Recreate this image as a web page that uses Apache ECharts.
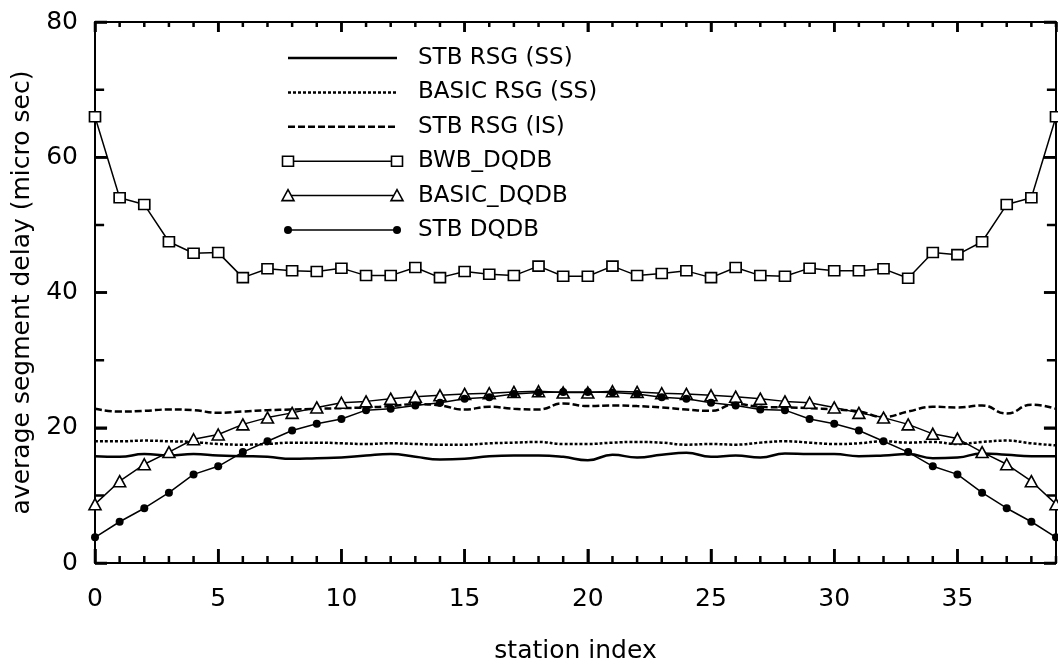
<!DOCTYPE html>
<html>
<head>
<meta charset="utf-8">
<script src="https://cdn.jsdelivr.net/npm/echarts@6/dist/echarts.min.js"></script>
<style>html,body{margin:0;padding:0;background:#fff}#c{width:1058px;height:669px}</style>
</head>
<body>
<div id="c"></div>
<script>
const stationIndex = [0,1,2,3,4,5,6,7,8,9,10,11,12,13,14,15,16,17,18,19,20,21,22,23,24,25,26,27,28,29,30,31,32,33,34,35,36,37,38,39];
const xTicks = [0,5,10,15,20,25,30,35];
const yTicks = [0,20,40,60,80];
const yMinorTicks = [0,10,20,30,40,50,60,70,80];

const stbRsgSS = [15.8,15.7,16.1,15.9,16.1,15.9,15.8,15.7,15.4,15.5,15.6,15.9,16.1,15.7,15.3,15.4,15.8,15.9,15.9,15.7,15.2,16.0,15.6,16.0,16.3,15.7,15.9,15.6,16.2,16.1,16.1,15.8,15.9,16.1,15.5,15.6,16.2,16.0,15.8,15.8];
const basicRsgSS = [18.0,18.0,18.1,18.0,17.9,17.6,17.5,17.6,17.8,17.8,17.7,17.6,17.7,17.6,17.5,17.5,17.7,17.8,17.9,17.6,17.6,17.8,17.9,17.8,17.5,17.6,17.5,17.8,18.0,17.8,17.6,17.7,18.0,17.8,17.9,17.6,17.9,18.1,17.7,17.4];
const stbRsgIS = [22.8,22.4,22.5,22.7,22.6,22.2,22.4,22.6,22.7,22.8,22.9,23.0,23.2,23.5,23.3,22.7,23.1,22.8,22.7,23.6,23.2,23.3,23.2,23.0,22.7,22.5,23.5,23.1,23.0,22.9,22.7,22.4,21.6,22.4,23.1,23.0,23.3,22.1,23.4,22.8];
const bwbDqdb = [66,54,53,47.5,45.8,45.9,42.2,43.5,43.2,43.1,43.6,42.5,42.5,43.7,42.2,43.1,42.7,42.5,43.9,42.4,42.4,43.9,42.5,42.8,43.2,42.2,43.7,42.5,42.4,43.6,43.2,43.2,43.5,42.1,45.9,45.6,47.5,53,54,66];
const basicDqdb = [8.7,12.1,14.6,16.4,18.3,19.0,20.5,21.5,22.2,23.0,23.7,23.9,24.3,24.6,24.8,25.0,25.1,25.3,25.4,25.2,25.2,25.4,25.3,25.1,25.0,24.8,24.6,24.3,23.9,23.7,23.0,22.2,21.5,20.5,19.1,18.4,16.4,14.6,12.1,8.7];
const stbDqdb = [3.8,6.1,8.1,10.4,13.1,14.3,16.4,18.0,19.6,20.6,21.3,22.6,22.8,23.3,23.7,24.3,24.5,25.0,25.2,25.3,25.3,25.2,25.0,24.5,24.3,23.7,23.3,22.7,22.6,21.3,20.6,19.6,18.0,16.4,14.3,13.1,10.4,8.1,6.1,3.8];

const legendNames = ['STB RSG (SS)','BASIC RSG (SS)','STB RSG (IS)','BWB_DQDB','BASIC_DQDB','STB DQDB'];

const X_MIN = 0, X_MAX = 39, Y_MIN = 0, Y_MAX = 80;
const pairs = arr => stationIndex.map((x,i)=>[x,arr[i]]);
const FONT = 'DejaVu Sans';
const BLACK = '#000';

const chart = echarts.init(document.getElementById('c'));

// inward tick marks, in axis units, drawn through the axis scales
const TX_BOTTOM_MAJOR = 2.07, TX_BOTTOM_MINOR = 1.03, TX_TOP_MAJOR = 1.48, TX_TOP_MINOR = 0.74;
const TY_MAJOR = 0.49, TY_MINOR = 0.37;
const bottomTickPts = [], topTickPts = [], leftTickPts = [], rightTickPts = [];
stationIndex.forEach(v=>{
  const major = v % 5 === 0;
  bottomTickPts.push([v, Y_MIN], [v, Y_MIN + (major ? TX_BOTTOM_MAJOR : TX_BOTTOM_MINOR)], [v, '-']);
  topTickPts.push([v, Y_MAX], [v, Y_MAX - (major ? TX_TOP_MAJOR : TX_TOP_MINOR)], [v, '-']);
});
yMinorTicks.forEach(v=>{
  const major = v % 20 === 0;
  leftTickPts.push([X_MIN, v], [X_MIN + (major ? TY_MAJOR : TY_MINOR), v], ['-', v]);
  rightTickPts.push([X_MAX, v], [X_MAX - (major ? TY_MAJOR : TY_MINOR), v], ['-', v]);
});
const tickLine = pts => ({type:'line',data:pts,symbol:'none',silent:true,connectNulls:false,clip:false,
  lineStyle:{color:BLACK,width:2.5},z:5});

const series = [
  {name:legendNames[0],type:'line',data:pairs(stbRsgSS),smooth:0.5,symbol:'none',lineStyle:{color:BLACK,width:2.5,type:'solid'},z:2},
  {name:legendNames[1],type:'line',data:pairs(basicRsgSS),smooth:0.5,symbol:'none',lineStyle:{color:BLACK,width:2.5,type:[3,2]},z:2},
  {name:legendNames[2],type:'line',data:pairs(stbRsgIS),smooth:0.5,symbol:'none',lineStyle:{color:BLACK,width:2.5,type:[7,3]},z:2},
  {name:legendNames[3],type:'line',data:pairs(bwbDqdb),symbol:'rect',symbolSize:[11,10],showAllSymbol:true,lineStyle:{color:BLACK,width:1.5},itemStyle:{color:'#fff',borderColor:BLACK,borderWidth:1.6},z:3},
  {name:legendNames[4],type:'line',data:pairs(basicDqdb),symbol:'triangle',symbolSize:[12,11],showAllSymbol:true,lineStyle:{color:BLACK,width:1.5},itemStyle:{color:'#fff',borderColor:BLACK,borderWidth:1.6},z:3},
  {name:legendNames[5],type:'line',data:pairs(stbDqdb),symbol:'circle',symbolSize:8,showAllSymbol:true,lineStyle:{color:BLACK,width:1.5},itemStyle:{color:BLACK,borderColor:BLACK,borderWidth:0},z:4},
  tickLine(bottomTickPts), tickLine(topTickPts), tickLine(leftTickPts), tickLine(rightTickPts)
];

// legend drawn as graphic
const legX0 = 288, legX1 = 397, legText = 418, legY0 = 58, legStep = 34.4;
const graphics = [];
legendNames.forEach((nm,i)=>{
  const y = legY0 + i*legStep;
  let lw = 1.5, dash = null;
  if(i<3){ lw = 2.5; dash = i===1?[3,2]:(i===2?[7,3]:null); }
  const ls = {stroke:BLACK,lineWidth:lw};
  if(dash) ls.lineDash = dash;
  graphics.push({type:'line',shape:{x1:legX0,y1:y,x2:legX1,y2:y},style:ls,z:10});
  [legX0, legX1].forEach(cx=>{
    if(i===3) graphics.push({type:'rect',shape:{x:cx-5.5,y:y-5,width:11,height:10},style:{fill:'#fff',stroke:BLACK,lineWidth:1.6},z:11});
    if(i===4) graphics.push({type:'polygon',shape:{points:[[cx,y-6],[cx+6,y+5],[cx-6,y+5]]},style:{fill:'#fff',stroke:BLACK,lineWidth:1.6},z:11});
    if(i===5) graphics.push({type:'circle',shape:{cx:cx,cy:y,r:4},style:{fill:BLACK},z:11});
  });
  graphics.push({type:'text',x:legText,y:y,style:{text:nm,font:'23px "DejaVu Sans"',fill:BLACK,textVerticalAlign:'middle',textAlign:'left'},z:11});
});

const TICK_LS = {color:BLACK,width:2.5};
chart.setOption({
  animation:false,
  grid:{left:95,right:2,top:22,bottom:105},
  xAxis:[
    {type:'value',position:'bottom',min:X_MIN,max:X_MAX,interval:5,
      axisLine:{show:true,onZero:false,lineStyle:{color:BLACK,width:2}},
      axisTick:{show:true,inside:true,length:14,lineStyle:TICK_LS},
      splitLine:{show:false},
      name:'station index',nameLocation:'middle',nameGap:76,nameTextStyle:{fontFamily:FONT,fontSize:25,color:BLACK},
      axisLabel:{show:true,margin:24,fontFamily:FONT,fontSize:25,color:BLACK,showMaxLabel:false,
        formatter:v=>xTicks.indexOf(v)>=0?String(v):''}},
    {type:'value',position:'top',min:X_MIN,max:X_MAX,interval:5,
      axisLine:{show:true,onZero:false,lineStyle:{color:BLACK,width:2}},
      axisTick:{show:true,inside:true,length:10,lineStyle:TICK_LS},
      splitLine:{show:false},axisLabel:{show:false}}
  ],
  yAxis:[
    {type:'value',position:'left',min:Y_MIN,max:Y_MAX,interval:20,
      axisLine:{show:true,onZero:false,lineStyle:{color:BLACK,width:2}},
      axisTick:{show:true,inside:true,length:12,lineStyle:TICK_LS},
      splitLine:{show:false},
      name:'average segment delay (micro sec)',nameLocation:'middle',nameGap:60,nameTextStyle:{fontFamily:FONT,fontSize:25,color:BLACK},
      axisLabel:{show:true,margin:17,fontFamily:FONT,fontSize:25,color:BLACK,
        formatter:v=>yTicks.indexOf(v)>=0?String(v):''}},
    {type:'value',position:'right',min:Y_MIN,max:Y_MAX,interval:20,
      axisLine:{show:true,onZero:false,lineStyle:{color:BLACK,width:2}},
      axisTick:{show:true,inside:true,length:12,lineStyle:TICK_LS},
      splitLine:{show:false},axisLabel:{show:false}}
  ],
  series:series,
  graphic:graphics
});
</script>
</body>
</html>
